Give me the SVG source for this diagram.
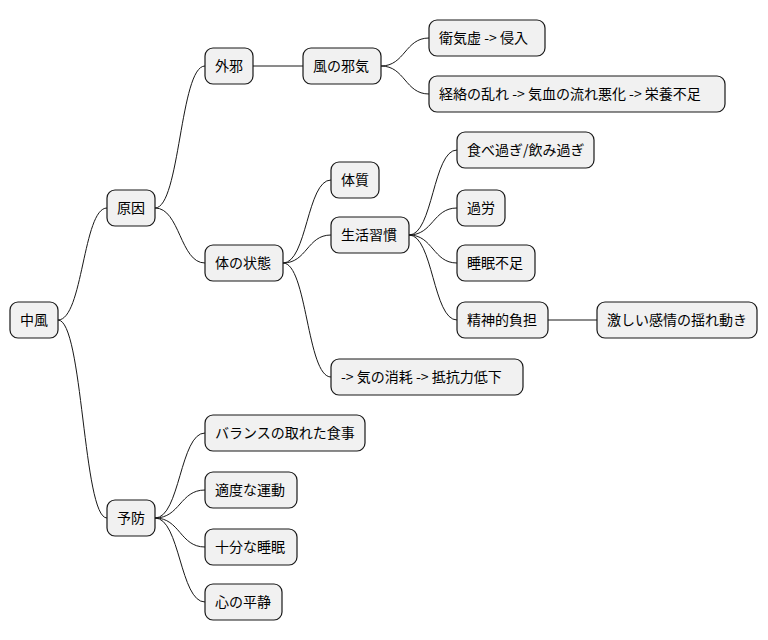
<svg xmlns="http://www.w3.org/2000/svg" width="768" height="640" viewBox="0 0 768 640">
<style>
.n rect{fill:#F1F1F1;stroke:#181818;stroke-width:1.2}
.n text{font-family:"Noto Sans CJK JP","Liberation Sans",sans-serif;font-size:14px;fill:#000}
#c path{fill:none;stroke:#181818;stroke-width:1}
</style>
<rect width="768" height="640" fill="#fff"/>
<g id="c">
<path d="M58,320 C83,320 83,208 107,208"/>
<path d="M58,320 C83,320 83,518 107,518"/>
<path d="M155,208 C180,208 180,66 205,66"/>
<path d="M155,208 C180,208 180,263 205,263"/>
<path d="M253,66 L303,66"/>
<path d="M381,66 C405,66 405,38 429,38"/>
<path d="M381,66 C405,66 405,94 429,94"/>
<path d="M283,263 C307,263 307,180 331,180"/>
<path d="M283,263 C307,263 307,235 331,235"/>
<path d="M283,263 C307,263 307,377 331,377"/>
<path d="M409,235 C433,235 433,150 457,150"/>
<path d="M409,235 C433,235 433,208 457,208"/>
<path d="M409,235 C433,235 433,263 457,263"/>
<path d="M409,235 C433,235 433,320 457,320"/>
<path d="M548,320 L597,320"/>
<path d="M155,518 C180,518 180,433 205,433"/>
<path d="M155,518 C180,518 180,490 205,490"/>
<path d="M155,518 C180,518 180,547 205,547"/>
<path d="M155,518 C180,518 180,602 205,602"/>
</g>
<g id="n1" class="n"><rect x="10" y="302" width="48" height="36" rx="8"/><text x="20" y="325">中風</text></g>
<g id="n2" class="n"><rect x="107" y="190" width="48" height="36" rx="8"/><text x="117" y="213">原因</text></g>
<g id="n3" class="n"><rect x="107" y="500" width="48" height="36" rx="8"/><text x="117" y="523">予防</text></g>
<g id="n4" class="n"><rect x="205" y="48" width="48" height="36" rx="8"/><text x="215" y="71">外邪</text></g>
<g id="n5" class="n"><rect x="205" y="245" width="78" height="36" rx="8"/><text x="215" y="268">体の状態</text></g>
<g id="n6" class="n"><rect x="303" y="48" width="78" height="36" rx="8"/><text x="313" y="71">風の邪気</text></g>
<g id="n7" class="n"><rect x="429" y="20" width="116" height="36" rx="8"/><text x="439" y="43">衛気虚 -&gt; 侵入</text></g>
<g id="n8" class="n"><rect x="429" y="76" width="296" height="36" rx="8"/><text x="439" y="99">経絡の乱れ -&gt; 気血の流れ悪化 -&gt; 栄養不足</text></g>
<g id="n9" class="n"><rect x="331" y="162" width="48" height="36" rx="8"/><text x="341" y="185">体質</text></g>
<g id="n10" class="n"><rect x="331" y="217" width="78" height="36" rx="8"/><text x="341" y="240">生活習慣</text></g>
<g id="n11" class="n"><rect x="331" y="359" width="192" height="36" rx="8"/><text x="341" y="382">-&gt; 気の消耗 -&gt; 抵抗力低下</text></g>
<g id="n12" class="n"><rect x="457" y="132" width="137" height="36" rx="8"/><text x="467" y="155">食べ過ぎ/飲み過ぎ</text></g>
<g id="n13" class="n"><rect x="457" y="190" width="48" height="36" rx="8"/><text x="467" y="213">過労</text></g>
<g id="n14" class="n"><rect x="457" y="245" width="78" height="36" rx="8"/><text x="467" y="268">睡眠不足</text></g>
<g id="n15" class="n"><rect x="457" y="302" width="91" height="36" rx="8"/><text x="467" y="325">精神的負担</text></g>
<g id="n16" class="n"><rect x="597" y="302" width="160" height="36" rx="8"/><text x="607" y="325">激しい感情の揺れ動き</text></g>
<g id="n17" class="n"><rect x="205" y="415" width="160" height="36" rx="8"/><text x="215" y="438">バランスの取れた食事</text></g>
<g id="n18" class="n"><rect x="205" y="472" width="92" height="36" rx="8"/><text x="215" y="495">適度な運動</text></g>
<g id="n19" class="n"><rect x="205" y="529" width="92" height="36" rx="8"/><text x="215" y="552">十分な睡眠</text></g>
<g id="n20" class="n"><rect x="205" y="584" width="77" height="36" rx="8"/><text x="215" y="607">心の平静</text></g>
</svg>
